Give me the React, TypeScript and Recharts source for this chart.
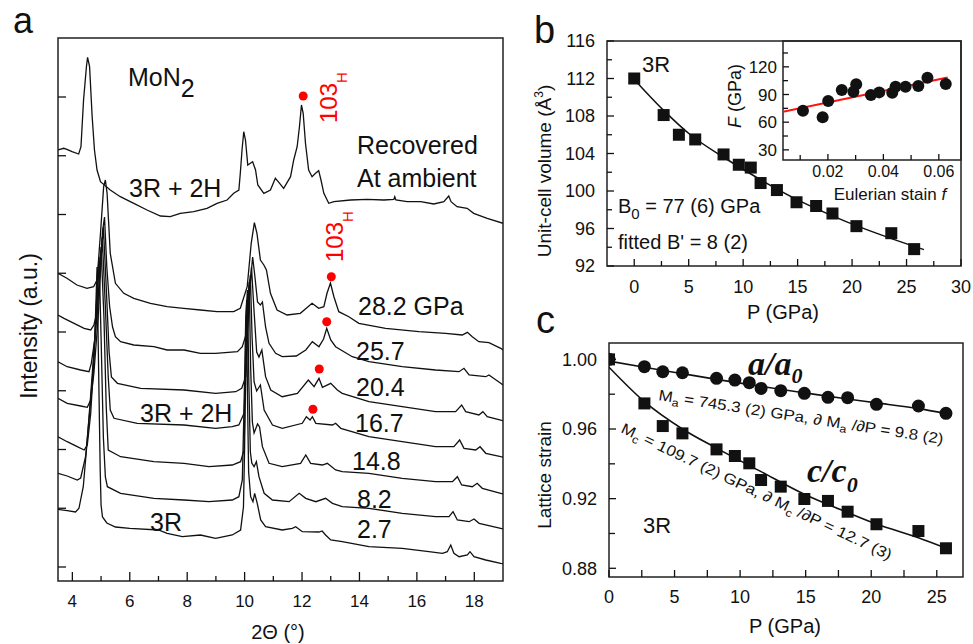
import React from 'react';
import { ComposedChart, Line, Scatter, XAxis, YAxis, ReferenceArea } from 'recharts';

const FONT = '"Liberation Sans", Arial, Helvetica, sans-serif';
const SERIF = '"Liberation Serif", "Times New Roman", serif';
const INK = '#111';
const RED = '#ff0000';

// ---------- Panel a : XRD patterns, [2θ (deg), intensity (a.u., stacked)] ----------
const xrdRecovered: [number, number][] = [
  [3.5, 417], [3.7, 418.7], [3.81, 417.7], [3.99, 415.3], [4.22, 413], [4.3, 420.3], [4.39, 467], [4.49, 500.3],
  [4.53, 509.7], [4.6, 500.3], [4.69, 450.3], [4.77, 417], [4.86, 397], [4.98, 385.3], [5.32, 377], [5.67, 370.3],
  [6.14, 363.7], [6.6, 357], [7.07, 351], [7.41, 350.3], [7.76, 353.7], [8.23, 355.3], [8.69, 358.7], [9.04, 363.7],
  [9.39, 367], [9.62, 373.7], [9.8, 377], [9.85, 393.7], [9.91, 417], [9.97, 435.3], [10.03, 427], [10.11, 402],
  [10.2, 403.7], [10.28, 405.3], [10.38, 397], [10.46, 382], [10.67, 373.7], [10.9, 377], [11.07, 388.7], [11.17, 385.3],
  [11.36, 378.7], [11.6, 390.3], [11.71, 407], [11.83, 420.3], [11.91, 440.3], [11.98, 462], [12.04, 453.7], [12.12, 423.7],
  [12.23, 397], [12.35, 390.3], [12.47, 393.7], [12.58, 396.3], [12.66, 387], [12.76, 373.7], [12.93, 363.7], [13.11, 365.3],
  [13.69, 367], [14.27, 367.7], [14.85, 367], [15.2, 367.7], [15.23, 370.3], [15.27, 367], [15.66, 365.3], [16.13, 365.3],
  [16.59, 363], [16.94, 365.3], [17.11, 371], [17.19, 365.3], [17.4, 360.3], [17.75, 358.7], [17.98, 353.7], [18.45, 348.7],
  [19, 343.7],
];
const xrd28_2: [number, number][] = [
  [3.5, 293.7], [3.81, 288.7], [4.16, 282], [4.51, 278.7], [4.74, 280.3], [4.86, 287], [4.98, 333.7], [5.09, 380.3],
  [5.15, 387], [5.21, 373.7], [5.32, 313.7], [5.5, 283.7], [5.79, 273.7], [6.14, 268.7], [6.72, 263.7], [7.3, 260.3],
  [7.88, 258.7], [8.46, 257], [9.04, 255.3], [9.62, 255.3], [9.85, 258.7], [10.09, 280.3], [10.23, 323.7], [10.34, 344.3],
  [10.43, 333.7], [10.55, 307], [10.67, 302], [10.76, 297], [10.9, 273.7], [11.13, 257], [11.48, 252], [11.94, 253.7],
  [12.35, 263.7], [12.58, 258.7], [12.76, 260.3], [12.87, 273.7], [12.99, 284], [13.11, 270.3], [13.28, 255.3], [13.63, 250.3],
  [13.98, 243.7], [14.91, 238.7], [16.07, 235.3], [17.0, 233.7], [17.58, 232], [17.76, 234.7], [17.93, 230.3], [18.16, 225.3],
  [18.51, 224.3], [18.92, 218.7], [19, 217],
];
const xrd25_7: [number, number][] = [
  [3.5, 252], [3.71, 248.7], [4.06, 243.7], [4.41, 238.7], [4.64, 237], [4.75, 242], [4.85, 253.7], [4.95, 290],
  [5.05, 335], [5.12, 350], [5.2, 300], [5.3, 260], [5.4, 240], [5.5, 230.3], [5.68, 225.3], [6.14, 222],
  [6.84, 220.3], [7.3, 217], [7.89, 217], [8.46, 213.7], [8.99, 213.7], [9.75, 215.3], [9.92, 220.3], [10.1, 237],
  [10.2, 285], [10.28, 310], [10.36, 290], [10.45, 265], [10.55, 262], [10.62, 265], [10.73, 240], [10.85, 223.7],
  [11.08, 213.7], [11.31, 210.3], [11.8, 211], [12.13, 217], [12.36, 225.3], [12.59, 220.3], [12.75, 228], [12.86, 238.7],
  [12.94, 232], [13.0, 227], [13.17, 220.3], [13.75, 210.3], [14.33, 205.3], [15.49, 200.3], [16.65, 197], [17.47, 195.3],
  [17.64, 198.7], [17.82, 192], [18.4, 190.3], [18.51, 192], [18.92, 183.7], [19, 182],
];
const xrd20_4: [number, number][] = [
  [3.5, 205.3], [3.82, 200.3], [4.29, 197], [4.58, 195.3], [4.66, 203.7], [4.81, 233.7], [4.95, 290], [5.08, 340],
  [5.18, 280], [5.28, 215], [5.36, 190], [5.57, 183.7], [6.38, 178.7], [7.89, 177], [8.99, 173.7], [9.69, 175.3],
  [9.9, 178.7], [10.04, 190.3], [10.14, 260], [10.24, 300], [10.32, 260], [10.42, 215], [10.5, 210], [10.6, 217],
  [10.73, 190.3], [10.91, 177], [11.31, 170.3], [11.84, 173.7], [12.22, 187], [12.42, 180.3], [12.59, 188.7], [12.71, 179.7],
  [13.0, 183.7], [13.23, 177], [13.4, 173.7], [14.33, 165.3], [15.49, 160.3], [16.65, 155.3], [17.35, 155.3], [17.56, 162],
  [17.7, 155.3], [18.16, 152], [18.3, 155.3], [18.45, 150.3], [18.92, 147], [19, 146],
];
const xrd16_7: [number, number][] = [
  [3.5, 168.7], [3.82, 163.7], [4.29, 161], [4.52, 159.7], [4.64, 167], [4.75, 193.7], [4.9, 250], [5.04, 330],
  [5.15, 260], [5.25, 190], [5.32, 157], [5.45, 148.7], [6.26, 143.7], [7.89, 142], [8.99, 138.7], [9.57, 140.3],
  [9.8, 142], [9.98, 153.7], [10.07, 220], [10.15, 280], [10.2, 292], [10.26, 230], [10.33, 185], [10.42, 176],
  [10.55, 182], [10.68, 157], [10.97, 142], [11.31, 138.7], [12.01, 143.7], [12.15, 150.3], [12.28, 147], [12.36, 150.3],
  [12.48, 143.7], [13.06, 142], [13.17, 143.7], [13.35, 138.7], [14.33, 130.3], [15.49, 125.3], [16.65, 120.3], [17.29, 120.3],
  [17.49, 127], [17.64, 118.7], [18.05, 117], [18.2, 120.3], [18.4, 113.7], [18.92, 110.3], [19, 110],
];
const xrd14_8: [number, number][] = [
  [3.5, 130.3], [3.82, 125.3], [4.17, 120.3], [4.41, 117], [4.52, 122], [4.64, 153.7], [4.75, 207], [4.88, 280],
  [5.0, 320], [5.1, 250], [5.18, 160], [5.25, 117], [5.68, 110.3], [6.84, 105.3], [7.89, 103.7], [8.76, 100.3],
  [9.57, 102], [9.86, 105.3], [9.98, 117], [10.05, 200], [10.11, 265], [10.16, 285], [10.21, 200], [10.27, 145],
  [10.33, 134], [10.45, 143], [10.52, 140], [10.62, 120.3], [10.85, 103.7], [11.31, 100.3], [11.95, 103.7], [12.13, 112],
  [12.3, 103.7], [12.71, 102], [12.88, 103.7], [13.17, 97], [13.4, 95.3], [14.33, 93.7], [15.49, 88.7], [16.65, 85.3],
  [17.24, 85.3], [17.41, 90.3], [17.56, 82], [17.93, 80.3], [18.1, 83.7], [18.28, 78.7], [18.92, 73.7], [19, 73],
];
const xrd8_2: [number, number][] = [
  [3.5, 93.7], [3.82, 91], [4.17, 87], [4.29, 89], [4.46, 110.3], [4.61, 157], [4.73, 200.3], [4.85, 270],
  [4.93, 310], [5.0, 230], [5.08, 130], [5.15, 90], [5.22, 80.3], [5.68, 73.7], [6.84, 68.7], [7.89, 67],
  [8.76, 65.3], [9.57, 67], [9.8, 70.3], [9.92, 87], [9.98, 160], [10.04, 250], [10.1, 277], [10.15, 180],
  [10.2, 115], [10.25, 104], [10.33, 100.3], [10.41, 105.3], [10.5, 90.3], [10.68, 73.7], [10.97, 67], [11.55, 65.3],
  [11.9, 73.7], [12.13, 68.7], [12.48, 65.3], [12.82, 68.7], [13.06, 63.7], [13.4, 60.3], [14.33, 58.7], [15.49, 53.7],
  [16.65, 50.3], [17.12, 50.3], [17.26, 55.3], [17.41, 47], [17.82, 45.3], [17.99, 48], [18.17, 43.7], [18.92, 38.7],
  [19, 38],
];
const xrd2_7: [number, number][] = [
  [3.5, 57.7], [3.82, 56.3], [4.11, 55], [4.23, 58.7], [4.38, 80.3], [4.52, 127], [4.66, 180.3], [4.78, 227],
  [4.86, 300], [4.93, 170], [4.97, 97], [5.0, 62], [5.05, 50], [5.2, 44], [5.5, 40], [6.0, 38.7],
  [7.0, 37], [7.3, 33.7], [7.83, 30.3], [8.46, 32], [8.99, 28.7], [9.57, 32], [9.86, 37], [9.96, 60],
  [10.0, 120], [10.04, 230], [10.07, 267], [10.1, 170], [10.14, 95], [10.21, 70.3], [10.29, 65.3], [10.35, 73.7],
  [10.44, 63.7], [10.56, 47], [10.73, 40.3], [11.31, 37], [11.66, 38.7], [11.78, 40.3], [12.01, 35.3], [12.59, 35],
  [12.7, 36], [12.82, 32], [13.0, 27], [13.4, 25.3], [14.33, 20.3], [15.49, 18.7], [16.42, 15.3], [16.89, 13.7],
  [17.06, 15.3], [17.18, 22], [17.29, 13.7], [17.47, 10.3], [17.76, 12], [17.85, 15.3], [17.99, 10.3], [18.4, 7],
  [18.92, 3.7], [19, 3.3],
];
const xrdTraces = [xrdRecovered, xrd28_2, xrd25_7, xrd20_4, xrd16_7, xrd14_8, xrd8_2, xrd2_7];
// 103_H markers (red dots)
const peak103H: [number, number][] = [[12.04, 471], [13.02, 290.3], [12.86, 245.3], [12.6, 198], [12.38, 157.7]];

const xTicksA = [4, 5, 6, 7, 8, 9, 10, 11, 12, 13, 14, 15, 16, 17, 18];
const xLabelsA = [4, 6, 8, 10, 12, 14, 16, 18];
const yTicksA = [0, 58.75, 117.5, 176.25, 235, 293.75, 352.5, 411.25, 470];

// ---------- Panel b : unit-cell volume vs pressure ----------
const pressureGPa = [0, 2.7, 4.1, 5.6, 8.2, 9.6, 10.7, 11.6, 13.1, 14.9, 16.7, 18.2, 20.4, 23.6, 25.7];
const volumeA3 = [112.0, 108.1, 106.0, 105.5, 103.9, 102.8, 102.5, 100.85, 100.1, 98.8, 98.4, 97.6, 96.25, 95.5, 93.8];
const eosFitP = [0, 2.7, 5.15, 8.2, 11.6, 15.0, 18.2, 20.5, 23.55, 26.6];
const eosFitV = [111.9, 108.6, 106.0, 103.6, 101.2, 99.05, 97.35, 96.25, 94.95, 93.75];
const xTicksB = [0, 2.5, 5, 7.5, 10, 12.5, 15, 17.5, 20, 22.5, 25, 27.5, 30];
const xLabelsB = [0, 5, 10, 15, 20, 25, 30];
const yTicksB = [92, 94, 96, 98, 100, 102, 104, 106, 108, 110, 112, 114, 116];
const yLabelsB = [92, 96, 100, 104, 108, 112, 116];

// ---------- Inset : normalized stress F vs Eulerian strain f ----------
const strainF = [0.011, 0.0181, 0.0201, 0.025, 0.0292, 0.0302, 0.0355, 0.0385, 0.0432, 0.0444, 0.048, 0.0526, 0.0559, 0.0625];
const stressF = [72.5, 65.3, 82.9, 94.8, 93, 101, 89.4, 92.3, 91.9, 98.4, 98.4, 99.1, 108.1, 101.3];
const fFitX = [0.0038, 0.0632];
const fFitY = [71.4, 108.5];
const xTicksIn = [0.01, 0.02, 0.03, 0.04, 0.05, 0.06];
const xLabelsIn = [0.02, 0.04, 0.06];
const yTicksIn = [30, 45, 60, 75, 90, 105, 120, 135];
const yLabelsIn = [30, 60, 90, 120];

// ---------- Panel c : lattice strain ----------
const aRatio = [1.0, 0.9958, 0.9929, 0.9923, 0.9891, 0.9881, 0.9866, 0.9833, 0.982, 0.9805, 0.9782, 0.978, 0.9742, 0.9732, 0.969];
const cRatio = [1.0, 0.9747, 0.9617, 0.9575, 0.9483, 0.9445, 0.9403, 0.9307, 0.9269, 0.9198, 0.9187, 0.9125, 0.9053, 0.9014, 0.8915];
const fitP = [0, 2.7, 5.6, 8.2, 11.6, 14.9, 18.2, 20.4, 23.6, 25.7];
const aFit = [0.999, 0.9955, 0.9918, 0.9885, 0.9845, 0.9808, 0.9772, 0.975, 0.9717, 0.969];
const cFit = [0.9955, 0.9757, 0.96, 0.949, 0.9355, 0.9225, 0.912, 0.9054, 0.8975, 0.8915];
const xTicksC = [0, 2.5, 5, 7.5, 10, 12.5, 15, 17.5, 20, 22.5, 25];
const xLabelsC = [0, 5, 10, 15, 20, 25];
const yTicksC = [0.88, 0.9, 0.92, 0.94, 0.96, 0.98, 1.0];
const yLabelsC = [0.88, 0.92, 0.96, 1.0];

// ---------- helpers ----------
const pairs = (arr: [number, number][]) => arr.map(([x, y]) => ({ x, y }));
const zip = (xs: number[], ys: number[]) => xs.map((x, i) => ({ x, y: ys[i] }));

type TickOpts = {
  side: 'bottom' | 'left';
  majors: number[];
  majorLen: number;
  minorLen: number;
  fontSize: number;
  gap: number;
  decimals?: number;
  labels?: boolean;
};
function makeTick(o: TickOpts) {
  return (props: any) => {
    const { x, y, payload } = props;
    const v = Number(payload.value);
    const isMajor = o.majors.some((m) => Math.abs(m - v) < 1e-9);
    const len = isMajor ? o.majorLen : o.minorLen;
    const label = o.decimals !== undefined ? v.toFixed(o.decimals) : String(v);
    const show = isMajor && o.labels !== false;
    if (o.side === 'bottom') {
      return (
        <g>
          <line x1={x} x2={x} y1={y} y2={y - len} stroke={INK} strokeWidth={1.3} />
          {show ? (
            <text x={x} y={y + o.gap} textAnchor="middle" fontSize={o.fontSize} fontFamily={FONT} fill={INK}>
              {label}
            </text>
          ) : null}
        </g>
      );
    }
    return (
      <g>
        <line x1={x} x2={x + len} y1={y} y2={y} stroke={INK} strokeWidth={1.3} />
        {show ? (
          <text x={x - o.gap} y={y + o.fontSize * 0.36} textAnchor="end" fontSize={o.fontSize} fontFamily={FONT} fill={INK}>
            {label}
          </text>
        ) : null}
      </g>
    );
  };
}

const squareShape = (size: number) => (p: any) => (
  <rect x={p.cx - size / 2} y={p.cy - size / 2} width={size} height={size} fill={INK} />
);
const circleShape = (r: number, color: string) => (p: any) => <circle cx={p.cx} cy={p.cy} r={r} fill={color} />;

const abs = (left: number, top: number): React.CSSProperties => ({ position: 'absolute', left, top });

export default function App() {
  return (
    <div style={{ position: 'absolute', left: 0, top: 0, width: 973, height: 644, background: '#fff', overflow: 'hidden' }}>
      {/* Panel a */}
      <div style={abs(0, 0)}>
        <ComposedChart width={520} height={644} margin={{ top: 38, right: 17, bottom: 33, left: 28 }}>
          <XAxis dataKey="x" type="number" domain={[3.5, 19]} allowDataOverflow ticks={xTicksA} interval={0}
            height={30} axisLine={false} tickLine={false} tickSize={0} tickMargin={0}
            tick={makeTick({ side: 'bottom', majors: xLabelsA, majorLen: 9, minorLen: 5, fontSize: 17, gap: 26 })} />
          <YAxis dataKey="y" type="number" domain={[-14, 529]} allowDataOverflow ticks={yTicksA} interval={0}
            width={30} axisLine={false} tickLine={false} tickSize={0} tickMargin={0}
            tick={makeTick({ side: 'left', majors: yTicksA, majorLen: 8, minorLen: 8, fontSize: 12, gap: 4, labels: false })} />
          <ReferenceArea x1={3.5} x2={19} y1={-14} y2={529} fill="none" stroke="#222" strokeWidth={1.5} ifOverflow="visible" />
          {xrdTraces.map((t, i) => (
            <Line key={i} data={pairs(t)} dataKey="y" type="linear" stroke={INK} strokeWidth={1.3} dot={false}
              isAnimationActive={false} />
          ))}
          <Scatter data={pairs(peak103H)} dataKey="y" shape={circleShape(4.5, RED)} isAnimationActive={false} />
        </ComposedChart>
      </div>

      {/* Panel b */}
      <div style={abs(530, 0)}>
        <ComposedChart width={443} height={330} margin={{ top: 41, right: 12, bottom: 34, left: 47 }}>
          <XAxis dataKey="x" type="number" domain={[-2.5, 30]} allowDataOverflow ticks={xTicksB} interval={0}
            height={30} axisLine={false} tickLine={false} tickSize={0} tickMargin={0}
            tick={makeTick({ side: 'bottom', majors: xLabelsB, majorLen: 7, minorLen: 5, fontSize: 18, gap: 27 })} />
          <YAxis dataKey="y" type="number" domain={[92, 116]} allowDataOverflow ticks={yTicksB} interval={0}
            width={30} axisLine={false} tickLine={false} tickSize={0} tickMargin={0}
            tick={makeTick({ side: 'left', majors: yLabelsB, majorLen: 7, minorLen: 5, fontSize: 18, gap: 12 })} />
          <ReferenceArea x1={-2.5} x2={30} y1={92} y2={116} fill="none" stroke="#222" strokeWidth={1.5} ifOverflow="visible" />
          <Line data={zip(eosFitP, eosFitV)} dataKey="y" type="monotone" stroke={INK} strokeWidth={1.5} dot={false}
            isAnimationActive={false} />
          <Scatter data={zip(pressureGPa, volumeA3)} dataKey="y" shape={squareShape(12)} isAnimationActive={false} />
        </ComposedChart>
      </div>

      {/* Inset */}
      <div style={abs(700, 0)}>
        <ComposedChart width={273} height={210} margin={{ top: 41, right: 12, bottom: 20, left: 53 }}>
          <XAxis dataKey="x" type="number" domain={[0.0038, 0.068]} allowDataOverflow ticks={xTicksIn} interval={0}
            height={30} axisLine={false} tickLine={false} tickSize={0} tickMargin={0}
            tick={makeTick({ side: 'bottom', majors: xLabelsIn, majorLen: 6, minorLen: 5, fontSize: 16, gap: 17, decimals: 2 })} />
          <YAxis dataKey="y" type="number" domain={[19, 148]} allowDataOverflow ticks={yTicksIn} interval={0}
            width={30} axisLine={false} tickLine={false} tickSize={0} tickMargin={0}
            tick={makeTick({ side: 'left', majors: yLabelsIn, majorLen: 6, minorLen: 5, fontSize: 17, gap: 6 })} />
          <ReferenceArea x1={0.0038} x2={0.068} y1={19} y2={148} fill="none" stroke="#222" strokeWidth={1.5} ifOverflow="visible" />
          <Scatter data={zip(strainF, stressF)} dataKey="y" shape={circleShape(6, INK)} isAnimationActive={false} />
          <Line data={zip(fFitX, fFitY)} dataKey="y" type="linear" stroke="#ff1111" strokeWidth={2} dot={false}
            isAnimationActive={false} />
        </ComposedChart>
      </div>

      {/* Panel c */}
      <div style={abs(530, 300)}>
        <ComposedChart width={443} height={344} margin={{ top: 43, right: 10, bottom: 37, left: 49 }}>
          <XAxis dataKey="x" type="number" domain={[0, 27]} allowDataOverflow ticks={xTicksC} interval={0}
            height={30} axisLine={false} tickLine={false} tickSize={0} tickMargin={0}
            tick={makeTick({ side: 'bottom', majors: xLabelsC, majorLen: 7, minorLen: 7, fontSize: 18, gap: 26 })} />
          <YAxis dataKey="y" type="number" domain={[0.875, 1.0094]} allowDataOverflow ticks={yTicksC} interval={0}
            width={30} axisLine={false} tickLine={false} tickSize={0} tickMargin={0}
            tick={makeTick({ side: 'left', majors: yLabelsC, majorLen: 7, minorLen: 6, fontSize: 18, gap: 12, decimals: 2 })} />
          <ReferenceArea x1={0} x2={27} y1={0.875} y2={1.0094} fill="none" stroke="#222" strokeWidth={1.5} ifOverflow="visible" />
          <Line data={zip(fitP, aFit)} dataKey="y" type="monotone" stroke={INK} strokeWidth={1.6} dot={false}
            isAnimationActive={false} />
          <Line data={zip(fitP, cFit)} dataKey="y" type="monotone" stroke={INK} strokeWidth={1.6} dot={false}
            isAnimationActive={false} />
          <Scatter data={zip(pressureGPa, aRatio)} dataKey="y" shape={circleShape(6.5, INK)} isAnimationActive={false} />
          <Scatter data={zip(pressureGPa, cRatio)} dataKey="y" shape={squareShape(12)} isAnimationActive={false} />
        </ComposedChart>
      </div>

      {/* Text annotations */}
      <svg width={973} height={644} style={{ position: 'absolute', left: 0, top: 0, pointerEvents: 'none' }}
        fontFamily={FONT} fill={INK}>
        {/* panel a */}
        <text x={13} y={33} fontSize={36}>a</text>
        <text x={128} y={86} fontSize={25}>MoN<tspan dy={11}>2</tspan></text>
        <text transform="translate(337,123) rotate(-90)" fontSize={24} fill={RED}>103<tspan fontSize={15} dy={10}>H</tspan></text>
        <text transform="translate(343,262) rotate(-90)" fontSize={24} fill={RED}>103<tspan fontSize={15} dy={10}>H</tspan></text>
        <text x={357} y={154} fontSize={25}>Recovered</text>
        <text x={357} y={187} fontSize={25}>At ambient</text>
        <text x={129} y={197} fontSize={25}>3R + 2H</text>
        <text x={358} y={315} fontSize={25}>28.2 GPa</text>
        <text x={356} y={360} fontSize={25}>25.7</text>
        <text x={356} y={396} fontSize={25}>20.4</text>
        <text x={355} y={432} fontSize={25}>16.7</text>
        <text x={352} y={470} fontSize={25}>14.8</text>
        <text x={357} y={508} fontSize={25}>8.2</text>
        <text x={357} y={538} fontSize={25}>2.7</text>
        <text x={140} y={422} fontSize={25}>3R + 2H</text>
        <text x={150} y={531} fontSize={25}>3R</text>
        <text transform="translate(37,326) rotate(-90)" fontSize={23} textAnchor="middle">Intensity (a.u.)</text>
        <text x={278} y={639} fontSize={20} textAnchor="middle">2Θ (°)</text>

        {/* panel b */}
        <text x={534} y={43} fontSize={38}>b</text>
        <text x={642} y={72} fontSize={22}>3R</text>
        <text x={618} y={213} fontSize={20}>B<tspan fontSize={15} dy={6}>0</tspan><tspan dy={-6}> = 77 (6) GPa</tspan></text>
        <text x={618} y={249} fontSize={20}>fitted B' = 8 (2)</text>
        <text transform="translate(551,171) rotate(-90)" fontSize={19} textAnchor="middle">
          Unit-cell volume (Å<tspan fontSize={12} dy={-8}>3</tspan><tspan dy={8}>)</tspan>
        </text>
        <text x={783} y={319} fontSize={20} textAnchor="middle">P (GPa)</text>
        <text transform="translate(741,96) rotate(-90)" fontSize={18} textAnchor="middle">
          <tspan fontStyle="italic">F</tspan> (GPa)
        </text>
        <text x={890} y={200} fontSize={17} textAnchor="middle">Eulerian stain <tspan fontStyle="italic">f</tspan></text>

        {/* panel c */}
        <text x={536} y={333} fontSize={38}>c</text>
        <text transform="translate(551,475) rotate(-90)" fontSize={19} textAnchor="middle">Lattice strain</text>
        <text x={785} y={633} fontSize={20} textAnchor="middle">P (GPa)</text>
        <text x={643} y={533} fontSize={22}>3R</text>
        <text x={748} y={375} fontSize={34} fontFamily={SERIF} fontWeight="bold" fontStyle="italic">
          a/a<tspan fontSize={22} dy={8}>0</tspan>
        </text>
        <text x={807} y={482} fontSize={34} fontFamily={SERIF} fontWeight="bold" fontStyle="italic">
          c/c<tspan fontSize={22} dy={10}>0</tspan>
        </text>
        <text transform="translate(658,400) rotate(8.8)" fontSize={15} textLength={288} lengthAdjust="spacingAndGlyphs">
          M<tspan fontSize={11} dy={4}>a</tspan><tspan dy={-4}> = 745.3 (2) GPa, ∂ M</tspan><tspan fontSize={11} dy={4}>a</tspan><tspan dy={-4}> /∂P = 9.8 (2)</tspan>
        </text>
        <text transform="translate(620,432) rotate(25.5)" fontSize={15} textLength={298} lengthAdjust="spacingAndGlyphs">
          M<tspan fontSize={11} dy={4}>c</tspan><tspan dy={-4}> = 109.7 (2) GPa, ∂ M</tspan><tspan fontSize={11} dy={4}>c</tspan><tspan dy={-4}> /∂P = 12.7 (3)</tspan>
        </text>
      </svg>
    </div>
  );
}
